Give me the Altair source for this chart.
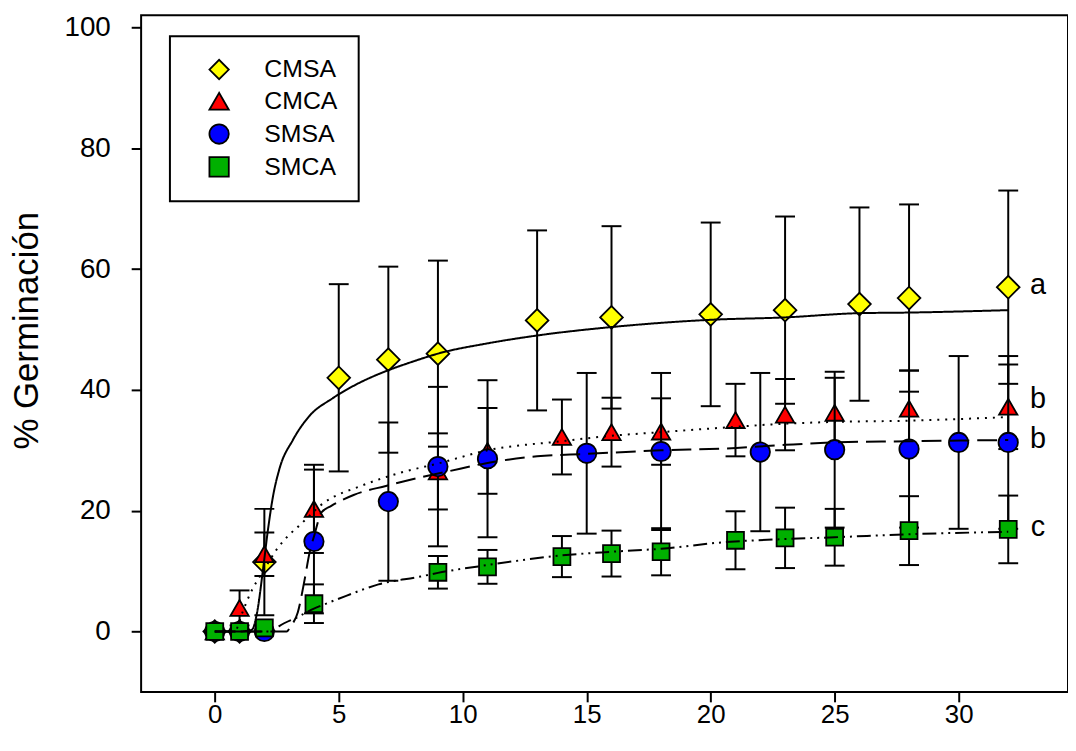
import altair as alt
import pandas as pd

FONT = "Liberation Sans"

series_names = ["CMSA", "CMCA", "SMSA", "SMCA"]
fill_colors = ["#FFFF00", "#FF0000", "#0000FF", "#00B000"]
shapes = ["diamond", "triangle-up", "circle", "square"]
marker_sizes = [520, 340, 380, 290]

# observed means and error bars
cmsa_day = [0, 1, 2, 5, 7, 9, 13, 16, 20, 23, 26, 28, 32]
cmsa_mean = [0, 0, 11.5, 42.0, 45.0, 46.0, 51.5, 52.0, 52.5, 53.2, 54.2, 55.2, 57.0]
cmsa_err = [0, 0, 8.8, 15.5, 15.4, 15.4, 14.9, 15.1, 15.2, 15.5, 16.0, 15.5, 16.0]

cmca_day = [0, 1, 2, 4, 9, 11, 14, 16, 18, 21, 23, 25, 28, 32]
cmca_mean = [0, 3.9, 12.8, 20.3, 26.5, 29.9, 32.2, 33.0, 33.1, 35.0, 35.9, 36.2, 36.9, 37.2]
cmca_err = [0, 2.9, 3.6, 7.3, 6.3, 7.1, 6.2, 5.7, 5.5, 6.0, 5.9, 5.8, 6.3, 7.0]

smsa_day = [0, 1, 2, 4, 7, 9, 11, 15, 18, 22, 25, 28, 30, 32]
smsa_mean = [0, 0, 0, 14.9, 21.5, 27.3, 28.6, 29.5, 29.8, 29.7, 30.1, 30.2, 31.3, 31.3]
smsa_err = [0, 0, 0, 11.9, 13.1, 13.2, 13.0, 13.3, 13.0, 13.1, 12.9, 13.0, 14.3, 14.3]

smca_day = [0, 1, 2, 4, 9, 11, 14, 16, 18, 21, 23, 25, 28, 32]
smca_mean = [0, 0, 0.6, 4.6, 9.8, 10.7, 12.4, 12.9, 13.2, 15.1, 15.5, 15.6, 16.7, 16.9]
smca_err = [0, 0, 0, 3.2, 2.7, 2.8, 3.4, 3.8, 3.9, 4.8, 5.0, 4.7, 5.7, 5.6]

# fitted curves
cmsa_fit_day = [0, 1.0, 1.5, 1.7, 1.95, 2.15, 2.35, 2.6, 3.15, 3.8, 4.75, 5.8, 6.6, 8.0, 9.0, 11.0, 13.0, 16.0, 20.0, 23.0, 26.0, 28.0, 32.0]
cmsa_fit = [0, 0, 0.3, 3.0, 10.4, 17.0, 22.4, 26.8, 31.7, 35.6, 38.6, 41.1, 42.6, 44.7, 46.0, 47.7, 49.0, 50.4, 51.6, 52.0, 52.7, 52.8, 53.2]

cmca_fit_day = [0, 0.8, 1.1, 1.4, 2.0, 2.5, 3.0, 3.4, 4.4, 5.9, 7.5, 9.0, 11.0, 14.0, 16.0, 18.0, 20.7, 23.0, 25.0, 28.0, 32.0]
cmca_fit = [0, 0, 3.0, 6.0, 10.3, 13.6, 16.0, 17.5, 21.3, 24.1, 26.3, 27.8, 30.0, 31.5, 32.4, 33.0, 33.8, 34.4, 34.7, 34.9, 35.5]

smsa_fit_day = [0, 2.9, 3.05, 3.35, 3.62, 3.82, 4.02, 4.3, 4.7, 5.6, 6.9, 8.5, 9.4, 11.0, 13.0, 15.0, 18.0, 20.6, 23.0, 25.0, 28.0, 32.0]
smsa_fit = [0, 0, 0.8, 3.2, 8.5, 13.0, 16.0, 19.7, 20.8, 22.6, 24.1, 25.7, 26.5, 27.9, 29.0, 29.4, 30.0, 30.3, 30.9, 31.3, 31.5, 31.7]

smca_fit_day = [0, 2.3, 2.6, 3.35, 4.0, 4.3, 5.3, 6.6, 8.3, 9.0, 11.0, 14.0, 16.0, 18.0, 20.6, 23.0, 25.0, 28.0, 32.0]
smca_fit = [0, 0, 0.9, 2.4, 3.8, 4.3, 5.9, 7.8, 9.1, 9.7, 11.0, 12.6, 13.2, 13.7, 14.8, 15.3, 15.6, 16.1, 16.5]

line_dashes = [[1, 0], [2, 6], [20, 8], [14, 5, 2, 5, 2, 5]]

# significance letters
letters = ["a", "b", "b", "c"]
letter_day = [33.2, 33.2, 33.2, 33.2]
letter_y = [55.8, 37.0, 30.4, 15.8]

x_ticks = [0, 5, 10, 15, 20, 25, 30]
y_ticks = [0, 20, 40, 60, 80, 100]

obs = {
    "CMSA": (cmsa_day, cmsa_mean, cmsa_err),
    "CMCA": (cmca_day, cmca_mean, cmca_err),
    "SMSA": (smsa_day, smsa_mean, smsa_err),
    "SMCA": (smca_day, smca_mean, smca_err),
}
fits = {
    "CMSA": (cmsa_fit_day, cmsa_fit),
    "CMCA": (cmca_fit_day, cmca_fit),
    "SMSA": (smsa_fit_day, smsa_fit),
    "SMCA": (smca_fit_day, smca_fit),
}

rows = []
for s, (d, m, e) in obs.items():
    for xi, yi, ei in zip(d, m, e):
        rows.append({"series": s, "x": xi, "y": yi, "err": ei, "lo": yi - ei, "hi": yi + ei})
pts = pd.DataFrame(rows)

frows = []
for s, (d, v) in fits.items():
    for xi, yi in zip(d, v):
        frows.append({"series": s, "x": xi, "y": yi})
fit_df = pd.DataFrame(frows)

txt_df = pd.DataFrame({"label": letters, "x": letter_day, "y": letter_y})

xscale = alt.Scale(domain=[-2.97, 34.41], nice=False, zero=False)
yscale = alt.Scale(domain=[-10, 102], nice=False, zero=False)

x_axis = alt.Axis(values=x_ticks, title=None, grid=False, labelFontSize=26,
                  labelPadding=0, tickSize=10, tickWidth=2, tickColor="black",
                  domain=False, labelColor="black", labelFont=FONT)
y_axis = alt.Axis(values=y_ticks, title="% Germinación", grid=False, labelFontSize=28,
                  labelPadding=21, tickSize=10, tickWidth=2, tickColor="black",
                  domain=False, labelColor="black", labelFont=FONT,
                  titleFont=FONT, titleFontSize=35, titleFontWeight="normal",
                  titleColor="black", titleX=-104, titleY=317,
                  titleBaseline="alphabetic", titleAlign="center", titleAngle=-90)


def X(field="x"):
    return alt.X(f"{field}:Q", scale=xscale, axis=x_axis)


def Y(field="y"):
    return alt.Y(f"{field}:Q", scale=yscale, axis=y_axis)


legend = alt.Legend(title=None, orient="none", legendX=29, legendY=21,
                    labelFontSize=25, labelFont=FONT, labelColor="black",
                    symbolStrokeColor="black", symbolStrokeWidth=1.8, symbolSize=380,
                    symbolOffset=16, labelOffset=33, padding=21, rowPadding=6,
                    strokeColor="black", symbolOpacity=1)

fill_enc = alt.Fill("series:N", scale=alt.Scale(domain=series_names, range=fill_colors), legend=legend)
shape_enc = alt.Shape("series:N", scale=alt.Scale(domain=series_names, range=shapes), legend=legend)
stroke_enc = alt.Stroke("series:N", scale=alt.Scale(domain=series_names, range=["black"] * 4), legend=legend)

base_pts = alt.Chart(pts)
layers = []
for s, size in zip(series_names, marker_sizes):
    sel = base_pts.transform_filter(alt.datum.series == s)
    eb = sel.transform_filter(alt.datum.err > 0)
    layers.append(eb.mark_rule(color="black", strokeWidth=2).encode(x=X(), y=Y("lo"), y2="hi:Q"))
    layers.append(eb.mark_tick(orient="horizontal", size=20, thickness=2, color="black", opacity=1).encode(x=X(), y=Y("lo")))
    layers.append(eb.mark_tick(orient="horizontal", size=20, thickness=2, color="black", opacity=1).encode(x=X(), y=Y("hi")))
    layers.append(sel.mark_point(filled=True, size=size, strokeWidth=1.8, opacity=1)
                  .encode(x=X(), y=Y(), fill=fill_enc, shape=shape_enc, stroke=stroke_enc))

base_fit = alt.Chart(fit_df)
for s, dash in zip(series_names, line_dashes):
    layers.append(base_fit.transform_filter(alt.datum.series == s)
                  .mark_line(color="black", strokeWidth=2, strokeDash=dash, interpolate="monotone")
                  .encode(x=X(), y=Y(), order="x:Q"))

layers.append(alt.Chart(txt_df).mark_text(fontSize=29, font=FONT, color="black", align="center",
                                           baseline="alphabetic")
              .encode(x=X(), y=Y(), text="label:N"))

chart = alt.layer(*layers).properties(
    width=933, height=681,
    padding={"left": 134, "top": 5, "right": 0, "bottom": 45},
    autosize=alt.AutoSizeParams(type="none"),
).configure_view(stroke="black", strokeWidth=2).configure_legend(strokeWidth=2)

chart.save("out.html", embed_options={"renderer": "svg", "actions": False})
